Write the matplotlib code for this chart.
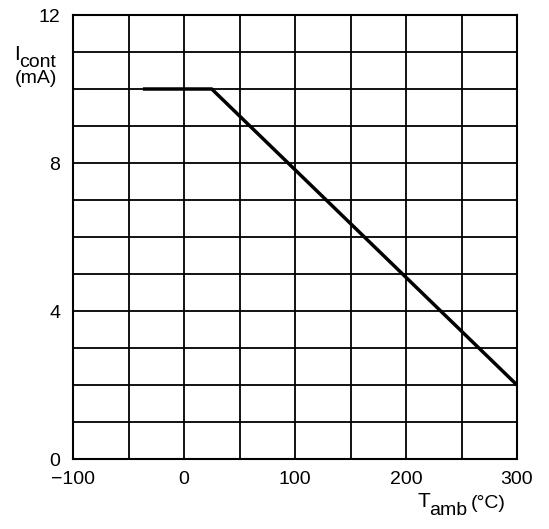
import numpy as np
import matplotlib
matplotlib.use("Agg")
import matplotlib.pyplot as plt

plt.rcParams['font.family'] = ['Liberation Sans', 'DejaVu Sans']

# derating curve
temp = [-37, 25, 300]
current = [10, 10, 2]
xticks = [-100, 0, 100, 200, 300]
xticklabels = ['\u2212100', '0', '100', '200', '300']
yticks = [0, 4, 8, 12]

W, H = 549, 529
fig = plt.figure(figsize=(W / 100, H / 100), dpi=100)
ax = fig.add_axes([73/W, 1 - 459/H, 444/W, 444/H])
ax.set_xlim(-100, 300)
ax.set_ylim(0, 12)

ax.set_xticks(np.arange(-100, 301, 50), minor=True)
ax.set_yticks(np.arange(0, 13, 1), minor=True)
ax.grid(which='both', color='black', lw=1.3)
ax.set_xticks(xticks)
ax.set_xticklabels(xticklabels)
ax.set_yticks(yticks)
ax.tick_params(which='both', length=0, labelsize=14)
ax.tick_params(axis='x', pad=9)
ax.tick_params(axis='y', pad=9)
for s in ax.spines.values():
    s.set_linewidth(1.5)

ax.plot(temp, current, color='black', lw=2.5, solid_capstyle='butt', zorder=3)

def px(x, y, s, size, **kw):
    fig.text(x / W, 1 - y / H, s, fontsize=size, va='baseline', ha='left', **kw)

px(14, 60, 'I', 15)
px(19, 67, 'cont', 14)
px(15, 83, '(mA)', 14)
px(418, 507, 'T', 15)
px(429, 515, 'amb', 14)
px(471, 508, '(\u00b0C)', 14)

fig.savefig('out.png', dpi=100)
